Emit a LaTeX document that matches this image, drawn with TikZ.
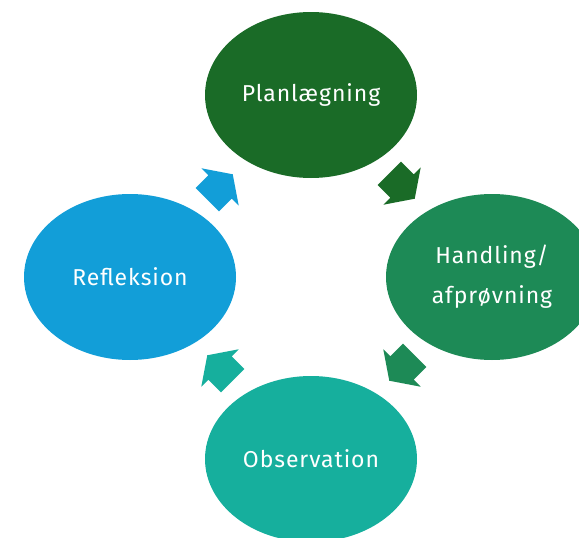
\documentclass[tikz,border=0pt]{standalone}
\usepackage{fontspec}
\setmainfont{Fira Sans}
\definecolor{cplan}{HTML}{1A6B27}
\definecolor{chand}{HTML}{1D8A56}
\definecolor{cobs}{HTML}{16AF9D}
\definecolor{crefl}{HTML}{129ED8}
\usetikzlibrary{shapes.geometric}
\tikzset{
  phase/.style={ellipse, minimum width=212pt, minimum height=166pt, inner sep=0pt,
    text=white, font=\fontsize{23}{40}\selectfont, align=center},
}
\newcommand{\cyclearrow}[4]{% x, y, angle, colour
  \fill[#4, shift={(#1,#2)}, rotate=#3]
    (-18,-16.5) -- (0,-16.5) -- (0,-26.5) -- (18,0) -- (0,26.5) -- (0,16.5) -- (-18,16.5) -- cycle;
}
\begin{document}
\begin{tikzpicture}[x=1pt,y=-1pt]
\useasboundingbox (0,0) rectangle (579,538);
\clip (0,0) rectangle (579,538);
\node[phase, fill=cplan] (plan) at (311,95) {\addfontfeatures{LetterSpace=4}Planlægning};
\node[phase, fill=chand] (hand) at (492,277) {\addfontfeatures{LetterSpace=4}Handling/\\\addfontfeatures{LetterSpace=4}afprøvning};
\node[phase, fill=cobs] (obs) at (311,459) {\addfontfeatures{LetterSpace=4}Observation};
\node[phase, fill=crefl] (refl) at (130,277) {\addfontfeatures{LetterSpace=4}Refleksion};
\cyclearrow{402}{186}{-45}{cplan}
\cyclearrow{402}{368}{-135}{chand}
\cyclearrow{220}{368}{135}{cobs}
\cyclearrow{220}{187}{45}{crefl}
\end{tikzpicture}
\end{document}
